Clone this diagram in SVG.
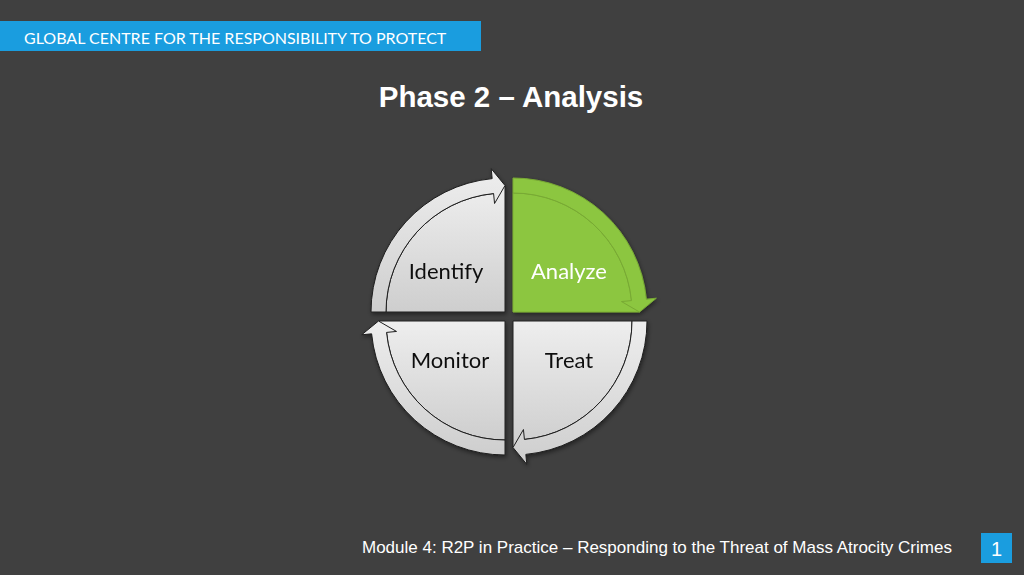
<svg xmlns="http://www.w3.org/2000/svg" width="1024" height="575" viewBox="0 0 1024 575">
<defs>
<linearGradient id="gray" x1="0" y1="0" x2="0" y2="1">
<stop offset="0" stop-color="#eeeeee"/>
<stop offset="1" stop-color="#cecece"/>
</linearGradient>
<filter id="sh" x="-20%" y="-20%" width="140%" height="140%">
<feDropShadow dx="1" dy="2" stdDeviation="2" flood-color="#000" flood-opacity="0.45"/>
</filter>
<style>
.pie{fill:url(#gray);stroke:#1e1e1e;stroke-width:1}
.arr{fill:url(#gray);stroke:#1e1e1e;stroke-width:1}
.gpie{fill:#8cc63f;stroke:#7cb032;stroke-width:1}
.garr{fill:#8cc63f;stroke:#78a934;stroke-width:1}
.lbl{font-family:Lato,"Open Sans",sans-serif;font-size:22px;text-anchor:middle}
</style>
</defs>
<rect width="1024" height="575" fill="#404040"/>
<g id="header">
<rect x="0" y="21" width="481" height="30" fill="#1a9ddf"/>
<text x="24" y="44" font-family="Lato,'Open Sans',sans-serif" font-size="16" fill="#ffffff">GLOBAL CENTRE FOR THE RESPONSIBILITY TO PROTECT</text>
</g>
<text id="title" x="511" y="107" font-family="'Liberation Sans',Arial,sans-serif" font-size="29.5" font-weight="bold" fill="#ffffff" text-anchor="middle">Phase 2 – Analysis</text>
<g id="identify" filter="url(#sh)">
<path class="pie" d="M505,312 L386,312 A119 119 0 0 1 493.59,193.55 L505,185.5 Z"/>
<path class="arr" d="M371,312 A134 134 0 0 1 492.16,178.62 L491.2,168.66 L505,185.5 L494.55,203.5 L493.59,193.55 A119 119 0 0 0 386,312 Z"/>
<text class="lbl" x="446" y="279" fill="#111111">Identify</text>
</g>
<g id="analyze" filter="url(#sh)">
<path class="gpie" d="M513,312 L513,193 A119 119 0 0 1 631.45,300.59 L639.5,312 Z"/>
<path class="garr" d="M513,178 A134 134 0 0 1 646.38,299.16 L656.34,298.2 L639.5,312 L621.5,301.55 L631.45,300.59 A119 119 0 0 0 513,193 Z"/>
<text class="lbl" x="569" y="279" fill="#ffffff">Analyze</text>
</g>
<g id="treat" filter="url(#sh)">
<path class="pie" d="M513,321 L632,321 A119 119 0 0 1 524.41,439.45 L513,447.5 Z"/>
<path class="arr" d="M647,321 A134 134 0 0 1 525.84,454.38 L526.8,464.34 L513,447.5 L523.45,429.5 L524.41,439.45 A119 119 0 0 0 632,321 Z"/>
<text class="lbl" x="569" y="368" fill="#111111">Treat</text>
</g>
<g id="monitor" filter="url(#sh)">
<path class="pie" d="M505,321 L505,440 A119 119 0 0 1 386.55,332.41 L378.5,321 Z"/>
<path class="arr" d="M505,455 A134 134 0 0 1 371.62,333.84 L361.66,334.8 L378.5,321 L396.5,331.45 L386.55,332.41 A119 119 0 0 0 505,440 Z"/>
<text class="lbl" x="450" y="368" fill="#111111">Monitor</text>
</g>
<g id="connectors"/>
<g id="footer">
<text x="362" y="553" font-family="'Liberation Sans',Arial,sans-serif" font-size="17" fill="#ffffff">Module 4: R2P in Practice – Responding to the Threat of Mass Atrocity Crimes</text>
<rect x="981" y="533" width="31" height="30" fill="#1a9ddf"/>
<text x="996.5" y="556" font-family="'Liberation Sans',Arial,sans-serif" font-size="20" fill="#ffffff" text-anchor="middle">1</text>
</g>
</svg>
